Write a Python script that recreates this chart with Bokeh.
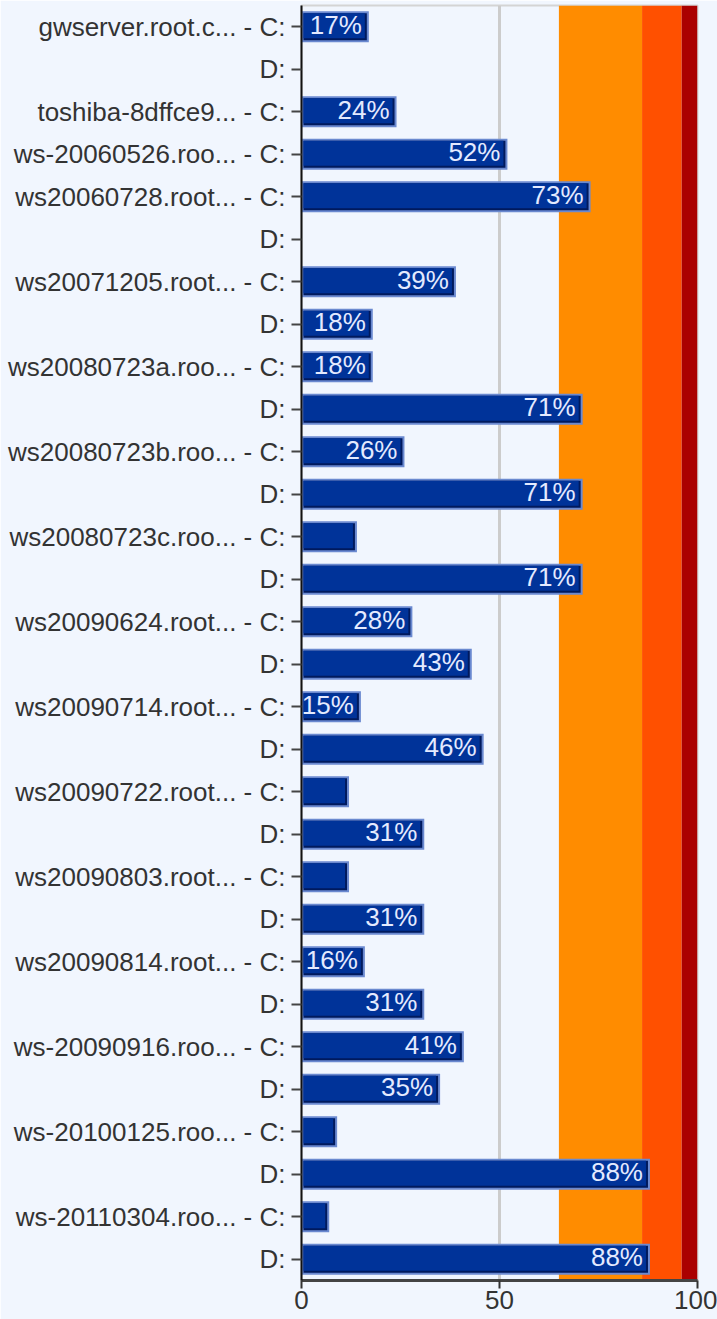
from bokeh.plotting import figure
from bokeh.models import Range1d, FixedTicker, BoxAnnotation, ColumnDataSource
from bokeh.embed import file_html
from bokeh.resources import INLINE
from bokeh.core.properties import value

# ---- data ----
row_labels = [
    "gwserver.root.c... - C:", "D:",
    "toshiba-8dffce9... - C:",
    "ws-20060526.roo... - C:",
    "ws20060728.root... - C:", "D:",
    "ws20071205.root... - C:", "D:",
    "ws20080723a.roo... - C:", "D:",
    "ws20080723b.roo... - C:", "D:",
    "ws20080723c.roo... - C:", "D:",
    "ws20090624.root... - C:", "D:",
    "ws20090714.root... - C:", "D:",
    "ws20090722.root... - C:", "D:",
    "ws20090803.root... - C:", "D:",
    "ws20090814.root... - C:", "D:",
    "ws-20090916.roo... - C:", "D:",
    "ws-20100125.roo... - C:", "D:",
    "ws-20110304.roo... - C:", "D:",
]
usage = [17, 0, 24, 52, 73, 0, 39, 18, 18, 71, 26, 71, 14, 71, 28, 43,
         15, 46, 12, 31, 12, 31, 16, 31, 41, 35, 9, 88, 7, 88]
zone_edges = [65, 86, 96, 100]
zone_colors = ["#FF8C00", "#FF5000", "#AA0000"]
x_ticks = [0, 50, 100]
label_min = 15

FONT = "Liberation Sans"
BG = "#F1F6FE"

n = len(row_labels)
p = figure(width=717, height=1319, output_backend="svg", toolbar_location=None,
           x_range=Range1d(0, 100), y_range=Range1d(n - 0.5, -0.5),
           min_border_left=301, min_border_right=20, min_border_top=5,
           min_border_bottom=39)
p.background_fill_color = BG
p.border_fill_color = BG
p.outline_line_color = "#d4d4d4"
p.outline_line_width = 2

for lo, hi, c in zip(zone_edges[:-1], zone_edges[1:], zone_colors):
    p.add_layout(BoxAnnotation(left=lo, right=hi, fill_color=c, fill_alpha=1.0,
                               line_alpha=0, level="underlay"))

p.xgrid.ticker = FixedTicker(ticks=[50])
p.xgrid.grid_line_color = "#cccccc"
p.xgrid.grid_line_width = 3
p.ygrid.grid_line_color = None

# bars (only nonzero)
ys, vs, labs = [], [], []
for i, v in enumerate(usage):
    if v > 0:
        ys.append(i)
        vs.append(v)
        labs.append(f"{round(v)}%" if v >= label_min else "")

xpx = 100 / 396.0
ypx = 30 / 1275.0
src = ColumnDataSource(dict(
    y=ys, right=vs, text=labs,
    dark_right=[v - 2 * xpx for v in vs],
    fill_right=[v - 4 * xpx for v in vs],
    fill_y=[y - 1 * ypx for y in ys],
))
p.hbar(y="y", left=0, right="right", height=31 * ypx, source=src,
       fill_color="#6a89d0", line_color=None)
p.hbar(y="y", left=2 * xpx, right="dark_right", height=27 * ypx, source=src,
       fill_color="#001a5e", line_color=None)
p.hbar(y="fill_y", left=2 * xpx, right="fill_right", height=25 * ypx, source=src,
       fill_color="#003399", line_color=None)
p.text(x="right", y="y", text="text", source=src, text_align="right",
       text_baseline="middle", x_offset=-7, y_offset=-2,
       text_color="#e4eaff", text_font=value(FONT), text_font_size="26px")

# y axis
p.yaxis.ticker = FixedTicker(ticks=list(range(n)))
p.yaxis.major_label_overrides = {i: lab for i, lab in enumerate(row_labels)}
p.yaxis.major_label_text_font = FONT
p.yaxis.major_label_text_font_size = "26px"
p.yaxis.major_label_text_color = "#333333"
p.yaxis.major_tick_out = 10
p.yaxis.major_tick_in = 0
p.yaxis.major_tick_line_width = 2
p.yaxis.major_tick_line_color = "#444444"
p.yaxis.minor_tick_line_color = None
p.yaxis.axis_line_color = "#111111"
p.yaxis.axis_line_width = 2
p.yaxis.major_label_standoff = 6

# x axis
p.xaxis.ticker = FixedTicker(ticks=x_ticks)
p.xaxis.major_label_text_font = FONT
p.xaxis.major_label_text_font_size = "26px"
p.xaxis.major_label_text_color = "#333333"
p.xaxis.major_tick_out = 8
p.xaxis.major_tick_in = 0
p.xaxis.major_tick_line_width = 2
p.xaxis.major_tick_line_color = "#333333"
p.xaxis.minor_tick_line_color = None
p.xaxis.axis_line_color = "#444444"
p.xaxis.axis_line_width = 3
p.xaxis.major_label_standoff = 2

open("out.html", "w").write(file_html(p, INLINE))
